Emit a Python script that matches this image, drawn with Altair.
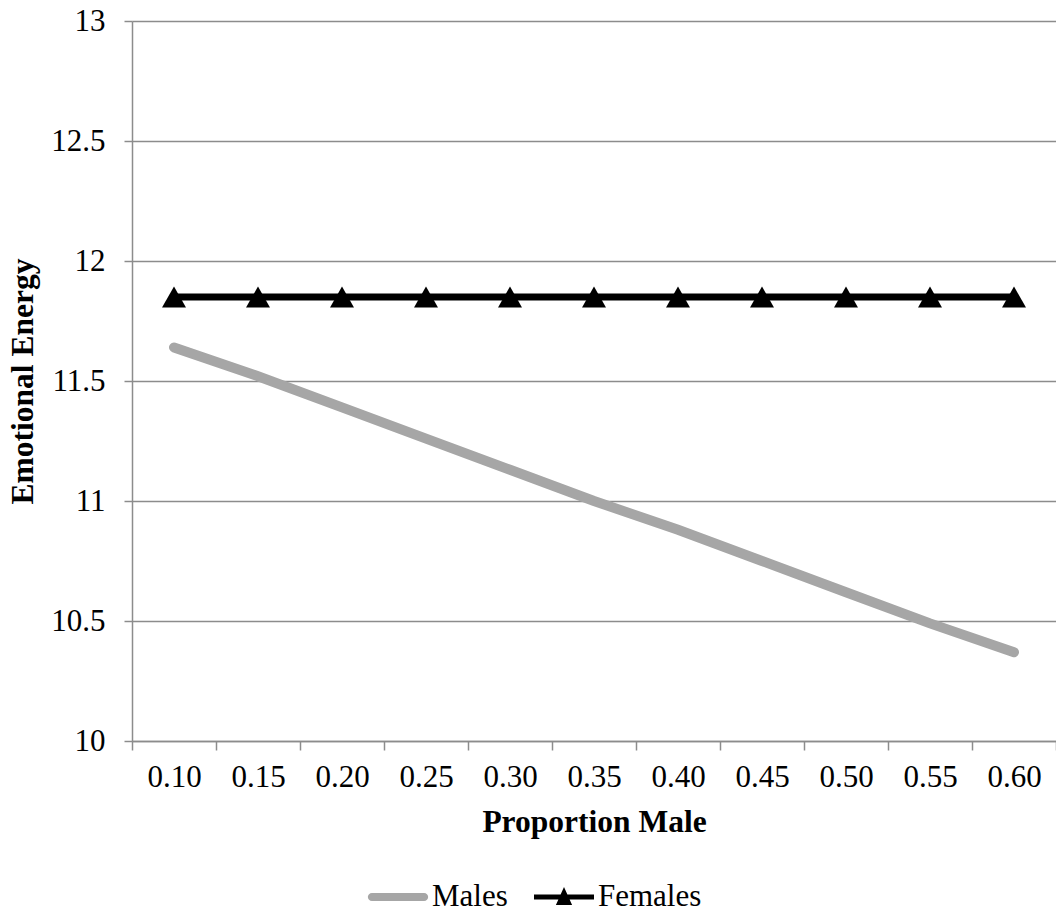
import altair as alt
import pandas as pd

categories = ["0.10", "0.15", "0.20", "0.25", "0.30", "0.35", "0.40", "0.45", "0.50", "0.55", "0.60"]
males = [11.64, 11.52, 11.39, 11.26, 11.13, 11.00, 10.88, 10.75, 10.62, 10.49, 10.37]
females = [11.85] * 11
series_names = ["Males", "Females"]
y_ticks = [10, 10.5, 11, 11.5, 12, 12.5, 13]

rows = []
for c, m, f in zip(categories, males, females):
    rows.append({"x": c, "series": "Males", "value": m})
    rows.append({"x": c, "series": "Females", "value": f})
df = pd.DataFrame(rows)

FONT = "Liberation Serif"
GRID = "#8c8c8c"
LABEL_SIZE = 31
TITLE_SIZE = 31.5

x_enc = alt.X(
    "x:N",
    sort=categories,
    bandPosition=0.5,
    scale=alt.Scale(type="band", domain=categories, paddingInner=0, paddingOuter=0),
    axis=alt.Axis(
        title="Proportion Male",
        tickBand="extent",
        tickSize=9,
        tickColor=GRID,
        tickWidth=1.5,
        domainColor=GRID,
        domainWidth=1.5,
        labelFont=FONT,
        labelFontSize=LABEL_SIZE,
        labelColor="black",
        labelPadding=12,
        titleFont=FONT,
        titleFontSize=TITLE_SIZE,
        titleFontWeight="bold",
        titleColor="black",
        titlePadding=14,
        grid=False,
        labelAngle=0,
    ),
)
y_enc = alt.Y(
    "value:Q",
    scale=alt.Scale(domain=[10, 13], nice=False, zero=False),
    axis=alt.Axis(
        title="Emotional Energy",
        values=y_ticks,
        format="~g",
        tickSize=8,
        tickColor=GRID,
        tickWidth=1.5,
        domainColor=GRID,
        domainWidth=1.5,
        gridColor=GRID,
        gridWidth=1.5,
        labelFont=FONT,
        labelFontSize=LABEL_SIZE,
        labelColor="black",
        labelPadding=19,
        titleFont=FONT,
        titleFontSize=TITLE_SIZE,
        titleFontWeight="bold",
        titleColor="black",
        titlePadding=11,
    ),
)

males_line = alt.Chart(df).transform_filter(alt.datum.series == "Males").mark_line(
    color="#a6a6a6", strokeWidth=10, strokeCap="round"
).encode(x=x_enc, y=y_enc)

females_line = alt.Chart(df).transform_filter(alt.datum.series == "Females").mark_line(
    color="#000000", strokeWidth=7
).encode(x=x_enc, y=y_enc)

females_pts = alt.Chart(df).transform_filter(alt.datum.series == "Females").mark_point(
    filled=True, opacity=1, size=576, shape="triangle-up", color="#000000"
).encode(x=x_enc, y=y_enc)

males_sym = "M-0.87,-0.135 H0.87 A0.135,0.135 0 0 1 0.87,0.135 H-0.87 A0.135,0.135 0 0 1 -0.87,-0.135 Z"
females_sym = "M-1,-0.08 H1 V0.08 H-1 Z M-0.27,0.27 L0,-0.33 L0.27,0.27 Z"

legend = alt.Legend(
    title=None,
    orient="none",
    direction="horizontal",
    legendX=236,
    legendY=846,
    symbolSize=3600,
    symbolStrokeWidth=0,
    symbolOpacity=1,
    labelFont=FONT,
    labelFontSize=LABEL_SIZE,
    labelColor="black",
    labelOffset=4,
    columnPadding=26,
    labelLimit=300,
)

legend_layer = alt.Chart(df).transform_filter("datum.value < 0").mark_point(
    filled=True, opacity=1
).encode(
    x=x_enc,
    y=y_enc,
    color=alt.Color(
        "series:N",
        scale=alt.Scale(domain=series_names, range=["#a6a6a6", "#000000"]),
        legend=legend,
    ),
    shape=alt.Shape(
        "series:N",
        scale=alt.Scale(domain=series_names, range=[males_sym, females_sym]),
        legend=legend,
    ),
)

chart = (
    alt.layer(males_line, females_line, females_pts, legend_layer)
    .properties(
        width=924,
        height=720,
        autosize=alt.AutoSizeParams(type="none"),
        padding={"left": 132, "top": 21, "right": 0, "bottom": 172},
    )
    .configure_view(stroke=None)
)

chart.save("out.html", embed_options={"renderer": "svg", "actions": False})
